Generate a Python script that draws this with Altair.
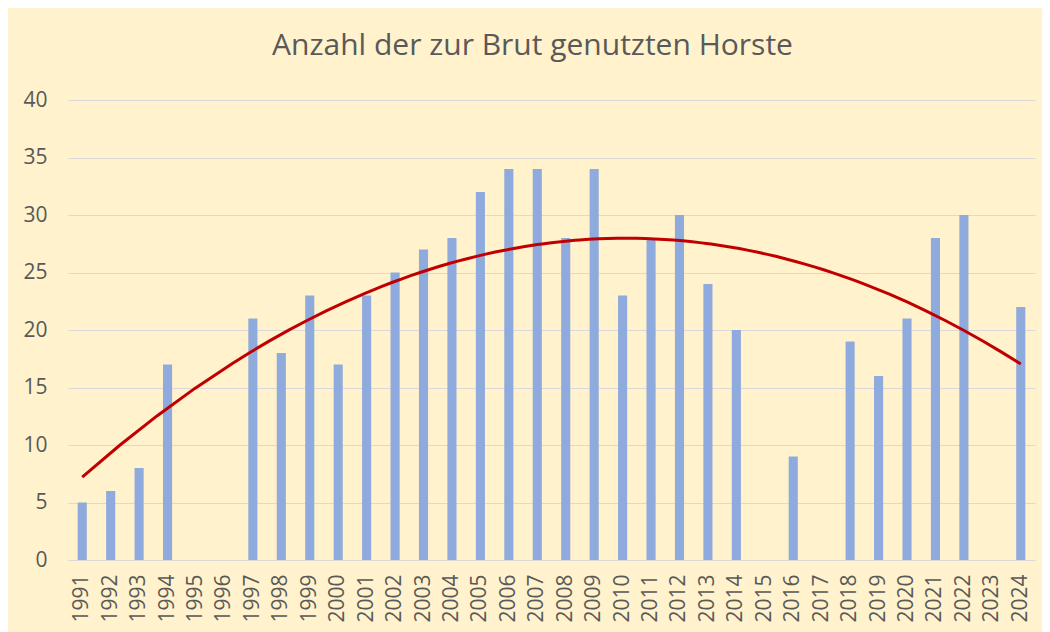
import altair as alt
import pandas as pd

years = list(range(1991, 2025))
values = [5, 6, 8, 17, None, None, 21, 18, 23, 17, 23, 25, 27, 28, 32, 34, 34, 28, 34, 23,
          28, 30, 24, 20, None, 9, None, 19, 16, 21, 28, 30, None, 22]

df = pd.DataFrame({"year": years, "value": values})

FONT = "Open Sans"
GREY = "#595959"

bars = alt.Chart(df).mark_bar(color="#8FAADC").encode(
    x=alt.X("year:O", title=None,
            scale=alt.Scale(domain=years, paddingInner=0.68, paddingOuter=0.34),
            axis=alt.Axis(labelAngle=-90, labelFontSize=21, labelColor=GREY, labelFont=FONT,
                          ticks=False, domain=False, labelPadding=14, labelBaseline="middle",
                          labelAlign="right")),
    y=alt.Y("value:Q", title=None,
            scale=alt.Scale(domain=[0, 40]),
            axis=alt.Axis(values=[0, 5, 10, 15, 20, 25, 30, 35, 40], labelFontSize=21,
                          labelColor=GREY, labelFont=FONT, ticks=False, domain=False,
                          labelPadding=21, gridColor="#D9D9D9", gridWidth=1)),
)

trend = alt.Chart(df).transform_filter(
    "datum.value != null"
).transform_regression(
    "year", "value", method="poly", order=2, extent=[1991, 2024]
).mark_line(color="#C00000", strokeWidth=3).encode(
    x=alt.X("year:Q", scale=alt.Scale(domain=[1990.5, 2024.5], nice=False, zero=False), axis=None),
    y=alt.Y("value:Q", scale=alt.Scale(domain=[0, 40])),
)

chart = alt.layer(bars, trend).resolve_scale(x="independent").properties(
    width=967, height=460,
    background="#FFF2CC",
    autosize=alt.AutoSizeParams(type="none"),
    padding={"left": 60, "top": 92, "right": 7, "bottom": 72},
    title=alt.TitleParams("Anzahl der zur Brut genutzten Horste", fontSize=30, font=FONT,
                          fontWeight="normal", color=GREY, anchor="middle", offset=28, dx=-19),
).configure_view(stroke=None)

chart.save("out.html", embed_options={"renderer": "svg", "actions": False})
